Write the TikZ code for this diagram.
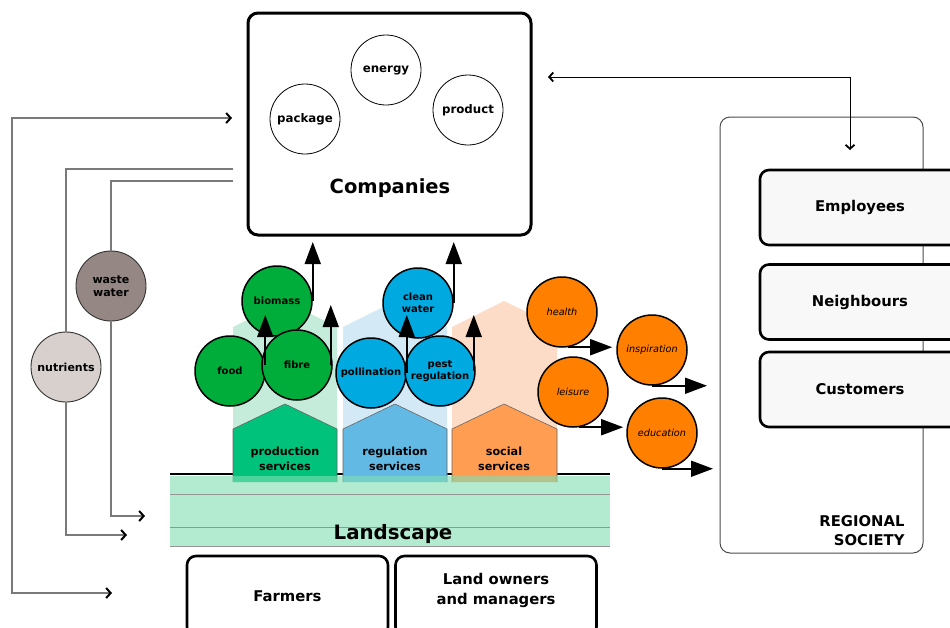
\documentclass[tikz,border=0pt]{standalone}
\usepackage{fontspec}
\setmainfont{DejaVu Sans}
\usetikzlibrary{arrows.meta,shapes.geometric}
\definecolor{prodDark}{HTML}{00C27A}
\definecolor{prodPale}{HTML}{C5ECDA}
\definecolor{regDark}{HTML}{62B9E4}
\definecolor{regPale}{HTML}{D3E9F5}
\definecolor{socDark}{HTML}{FF9D52}
\definecolor{socPale}{HTML}{FDDCC7}
\definecolor{greenC}{HTML}{00AD3B}
\definecolor{blueC}{HTML}{00A9E0}
\definecolor{orangeC}{HTML}{FF7F00}
\definecolor{landC}{HTML}{80DEB2}
\definecolor{wasteC}{HTML}{958783}
\definecolor{nutrC}{HTML}{D7D0CC}
\definecolor{entC}{HTML}{F8F8F8}
\definecolor{linkgray}{HTML}{7A7A7A}
\tikzset{
  chevtip/.tip={Straight Barb[length=4.5pt,width=10pt,line width=2pt,color=black]},
  smallchev/.tip={Straight Barb[length=4pt,width=9pt,line width=1.8pt,color=black]},
  bigbox/.style={draw=black, line width=3pt, rounded corners=10pt, fill=white},
  entbox/.style={draw=black, line width=2.6pt, rounded corners=9pt, fill=entC,
    minimum width=200pt, minimum height=75pt, font=\fontsize{14.8}{17}\selectfont\bfseries},
  basebox/.style={draw=black, line width=2.6pt, rounded corners=9pt, fill=white,
    minimum width=201pt, minimum height=80pt, font=\fontsize{14.8}{20}\selectfont\bfseries, align=center},
  compcirc/.style={circle, draw=black, line width=0.8pt, fill=white, minimum size=70pt,
    inner sep=0pt, font=\fontsize{11.8}{13}\selectfont\bfseries},
  svccirc/.style={circle, draw=black, line width=1.5pt, minimum size=70pt, inner sep=0pt,
    align=center, font=\fontsize{10}{12.5}\selectfont\bfseries},
  soccirc/.style={circle, draw=black, line width=1.5pt, fill=orangeC, minimum size=70pt,
    inner sep=0pt, font=\fontsize{9.7}{12}\selectfont\itshape},
  flowcirc/.style={circle, draw=black!80, line width=0.9pt, minimum size=70pt, inner sep=0pt,
    align=center, font=\fontsize{11}{13}\selectfont\bfseries},
  svcarrow/.style={draw=black, line width=1.8pt, -{Triangle[length=22pt,width=16pt]}},
  graylink/.style={draw=linkgray, line width=1.5pt},
  housetext/.style={align=center, font=\fontsize{11.2}{14.5}\selectfont\bfseries}
}
\begin{document}
\begin{tikzpicture}[x=1pt,y=-1pt]
\clip (0,0) rectangle (950,627);
\fill[white] (0,0) rectangle (950,627);

% regional society frame
\node[draw=black!70, line width=1pt, rounded corners=10pt, minimum width=203pt, minimum height=436pt] (regional) at (821.5,335) {};
\node[anchor=east, align=right, font=\fontsize{14.8}{19}\selectfont\bfseries] (reglbl) at (908,531) {REGIONAL\\SOCIETY};

% entity boxes
\node[entbox] (employees) at (860,207.5) {Employees};
\node[entbox] (neighbours) at (860,302) {Neighbours};
\node[entbox] (customers) at (860,389.5) {Customers};

% companies
\node[bigbox, minimum width=283pt, minimum height=222pt] (companies) at (389.5,124) {};
\node[font=\fontsize{19.5}{22}\selectfont\bfseries] (complbl) at (390,188) {Companies};
\node[compcirc] (energy) at (386,70) {energy};
\node[compcirc] (package) at (305,119) {package};
\node[compcirc] (product) at (468,110) {product};

% companies <-> regional society
\coordinate (ca) at (548,77);
\coordinate (rb) at (850,150);
\draw[line width=1pt, smallchev-smallchev] (ca) -| (rb);

% landscape top line
\draw[line width=2.2pt] (170,474) -- (610,474);

% pale houses
\fill[prodPale] (233,482) -- (233,327) -- (285,301) -- (337,327) -- (337,482) -- cycle;
\fill[regPale] (343,482) -- (343,327) -- (395,301) -- (447,327) -- (447,482) -- cycle;
\fill[socPale] (452,482) -- (452,327) -- (504,301) -- (557,327) -- (557,482) -- cycle;
% dark houses
\draw[fill=prodDark, draw=black!60, line width=0.6pt] (233,482) -- (233,429) -- (285,404) -- (337,429) -- (337,482);
\draw[fill=regDark, draw=black!60, line width=0.6pt] (343,482) -- (343,429) -- (395,404) -- (447,429) -- (447,482);
\draw[fill=socDark, draw=black!60, line width=0.6pt] (452,482) -- (452,429) -- (504,404) -- (557,429) -- (557,482);

% landscape
\node[fill=landC, fill opacity=0.6, draw=none, minimum width=440pt, minimum height=71pt, inner sep=0pt] (landscape) at (390,511) {};
\draw[linkgray!80, line width=0.8pt] (170,494) -- (610,494) (170,527) -- (610,527) (170,546.5) -- (610,546.5);
\node[font=\fontsize{19.8}{22}\selectfont\bfseries] (landlbl) at (393,534) {Landscape};

\node[housetext] (prodlbl) at (285,459) {production\\services};
\node[housetext] (reglbl2) at (395,459) {regulation\\services};
\node[housetext] (soclbl) at (504,459) {social\\services};

% production circles
\node[svccirc, fill=greenC] (biomass) at (277,301) {biomass};
\node[svccirc, fill=greenC] (food) at (230,371) {food};
\node[svccirc, fill=greenC] (fibre) at (297,365) {fibre};
\draw[svcarrow] ([xshift=4pt]fibre.west) -- ++(0,-50);
\draw[svcarrow] (biomass.east) -- ++(0,-59);
\draw[svcarrow] ([xshift=-2pt]fibre.east) -- ++(0,-60);

% regulation circles
\node[svccirc, fill=blueC] (cleanwater) at (418,303) {clean\\water};
\node[svccirc, fill=blueC] (pollination) at (371,373) {pollination};
\node[svccirc, fill=blueC] (pest) at (440,371) {pest\\regulation};
\draw[svcarrow] (pollination.east) -- ++(0,-58);
\draw[svcarrow] (cleanwater.east) -- ++(0,-61);
\draw[svcarrow] ([xshift=-2pt]pest.east) -- ++(0,-56);

% social circles
\node[soccirc] (health) at (562,312) {health};
\node[soccirc] (inspiration) at (652,350) {inspiration};
\node[soccirc] (leisure) at (573,392) {leisure};
\node[soccirc] (education) at (662,433) {education};
\draw[svcarrow] (health.-80) -- ++(44,0);
\draw[svcarrow] (inspiration.south) -- ++(55,0);
\draw[svcarrow] (leisure.-80) -- ++(44,0);
\draw[svcarrow] (education.south) -- ++(51,0);

% left flows
\node[flowcirc, fill=wasteC] (waste) at (111,286) {waste\\water};
\node[flowcirc, fill=nutrC] (nutrients) at (66,367) {nutrients};
\coordinate (o1) at (232,118);
\coordinate (ol) at (12,118);
\coordinate (o2) at (112,593);
\draw[graylink, chevtip-chevtip] (o1) -- (ol) |- (o2);
\coordinate (n1) at (233,169);
\coordinate (n2) at (127,535);
\draw[graylink] (n1) -| (nutrients.north);
\draw[graylink, -chevtip] (nutrients.south) |- (n2);
\coordinate (w1) at (233,181);
\coordinate (w2) at (145,516);
\draw[graylink] (w1) -| (waste.north);
\draw[graylink, -chevtip] (waste.south) |- (w2);

% base boxes
\node[basebox] (farmers) at (287.5,596) {Farmers};
\node[basebox] (landowners) at (496,596) {};
\node[align=center, font=\fontsize{14.8}{20}\selectfont\bfseries] (landownerslbl) at (496,590) {Land owners\\and managers};
\end{tikzpicture}
\end{document}
